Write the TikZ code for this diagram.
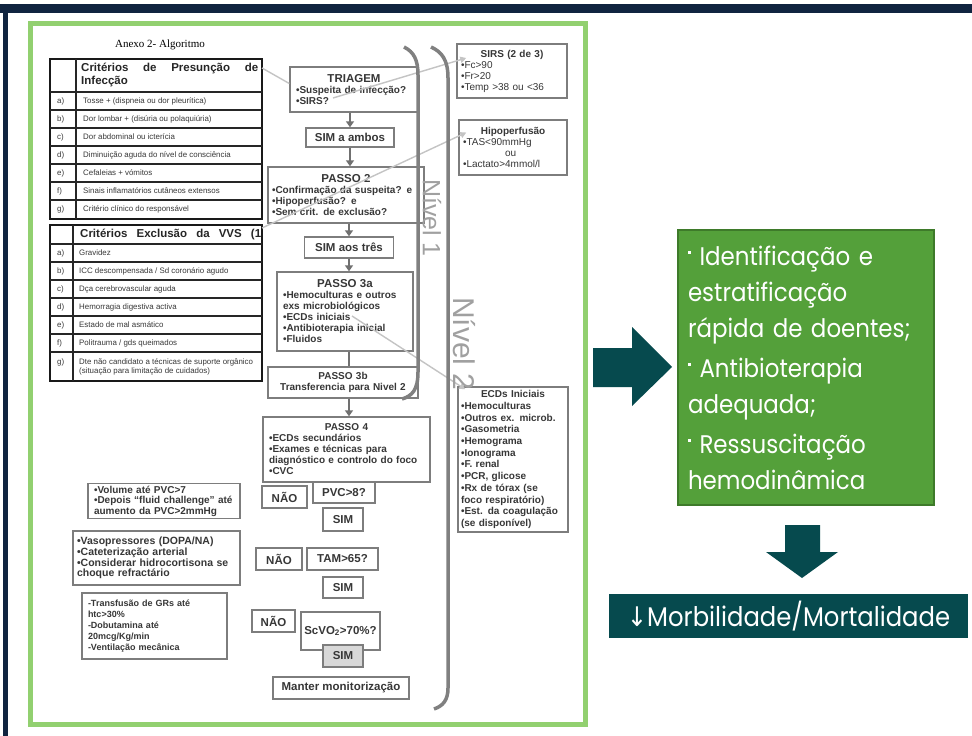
\documentclass[tikz,border=0pt]{standalone}
\usepackage{fontspec}
\usepackage{tikz}
\setmainfont{Liberation Sans}
\newfontfamily\annexfont{Liberation Serif}
\newfontfamily\slidefont[FakeStretch=0.9]{Poppins}
\newfontfamily\symfont[FakeStretch=0.9]{DejaVu Sans}
\usetikzlibrary{arrows.meta,backgrounds}
\definecolor{navyframe}{RGB}{16,36,64}
\definecolor{framegreen}{RGB}{146,208,112}
\definecolor{zonegray}{RGB}{216,216,216}
\definecolor{boxgray}{RGB}{125,125,125}
\definecolor{txtgray}{RGB}{55,55,55}
\definecolor{hintgray}{RGB}{196,196,196}
\definecolor{softgray}{RGB}{184,184,184}
\definecolor{flowgray}{RGB}{112,112,112}
\definecolor{bracketgray}{RGB}{128,128,128}
\definecolor{nivelgray}{RGB}{160,160,160}
\definecolor{darkteal}{RGB}{6,74,78}
\definecolor{slidegreen}{RGB}{84,160,58}
\definecolor{slidegreenedge}{RGB}{62,122,42}
\newcommand\boxhead[1]{\makebox[\hsize]{#1}\\}
\newcommand\sqb{\rule[0.45em]{3pt}{3pt}}

\begin{document}
\begin{tikzpicture}[x=1pt,y=-1pt,
            flowbox/.style={draw=boxgray,line width=1.4pt,text=txtgray,font=\bfseries\fontsize{10}{11}\selectfont,inner xsep=4pt,inner ysep=2pt,align=left},
            labelbox/.style={draw=boxgray,line width=1.4pt,text=txtgray,font=\bfseries\fontsize{11.5}{13}\selectfont,inner sep=1pt},
            flowarrow/.style={draw=flowgray,line width=2.6pt,-{Triangle[length=6pt,width=8pt]}},
            flowline/.style={draw=flowgray,line width=2.6pt},
            hintline/.style={draw=hintgray,line width=1.4pt},
            hintarrow/.style={hintline,-{Triangle[length=6pt,width=6pt]}},
            softline/.style={draw=softgray,line width=2.2pt},
            softarrow/.style={softline,-{Triangle[length=6pt,width=7pt]}},
            levelbracket/.style={draw=bracketgray,line width=3.5pt},
            leveltext/.style={text=nivelgray,rotate=-90,inner sep=0pt},
            rowlab/.style={anchor=west,inner sep=0pt,text=black!78,font=\fontsize{7.9}{9}\selectfont},
            rowtxt/.style={rowlab,align=left},
            tabframe/.style={draw=black!90,line width=2.6pt},
            tabrule/.style={draw=black!85,line width=1.3pt},
            greenbox/.style={fill=slidegreen,draw=slidegreenedge,line width=1.5pt,text=white,font=\slidefont\fontsize{25.5}{36}\selectfont,align=left,inner xsep=10pt},
            tealbox/.style={fill=darkteal,text=white,font=\slidefont\fontsize{27}{30}\selectfont}]
            \useasboundingbox (0,0) rectangle (972,736);
            \fill[white] (0,0) rectangle (972,736);
            \fill[navyframe] (0,4) rectangle (972,13);
            \fill[navyframe] (3,4) rectangle (8,736);
            \draw[framegreen,line width=5pt] (30,23) rectangle (585,724);

            \begin{pgfonlayer}{background}
                \fill[zonegray] (68,393) rectangle (436,705);
            \end{pgfonlayer}

            \node[font=\annexfont\fontsize{11}{13}\selectfont] (annex) at (160,45) {Anexo 2- Algoritmo};

            \draw[tabframe] (50,59) rectangle (262,219);
            \draw[tabrule] (76,59) -- (76,219);
            \foreach \yy in {92,110,128,146,164,182,200}
                \draw[tabrule] (50,\yy) -- (262,\yy);
            \node[anchor=north west,inner sep=0pt,text width=177pt,text=black!85,font=\bfseries\fontsize{11.5}{13}\selectfont] (crithead) at (81,63) {Critérios\hfill de\hfill Presunção\hfill de\\Infecção};
            \foreach \lab/\txt [count=\i] in {a)/{Tosse + (dispneia ou dor pleurítica)},b)/{Dor lombar + (disúria ou polaquiúria)},c)/{Dor abdominal ou icterícia},d)/{Diminuição aguda do nível de consciência},e)/{Cefaleias + vómitos},f)/{Sinais inflamatórios cutâneos extensos},g)/{Critério clínico do responsável}}{
                \node[rowlab] (pl\i) at (57,{83+18*\i}) {\lab};
                \node[rowtxt] (pt\i) at (83,{83+18*\i}) {\txt};
            }

            \draw[tabframe] (50,225) rectangle (262,381);
            \draw[tabrule] (73,225) -- (73,381);
            \foreach \yy in {244,262,280,298,316,334,352}
                \draw[tabrule] (50,\yy) -- (262,\yy);
            \node[anchor=west,inner sep=0pt,text=black!85,font=\bfseries\fontsize{11.5}{13}\selectfont] (exclhead) at (80,234.5) {\makebox[181pt][s]{Critérios Exclusão da VVS (1}};
            \foreach \lab/\txt [count=\i] in {a)/{Gravidez},b)/{ICC descompensada / Sd coronário agudo},c)/{Dça cerebrovascular aguda},d)/{Hemorragia digestiva activa},e)/{Estado de mal asmático},f)/{Politrauma / gds queimados}}{
                \node[rowlab] (el\i) at (57,{235+18*\i}) {\lab};
                \node[rowtxt] (et\i) at (79,{235+18*\i}) {\txt};
            }
            \node[rowlab] (el7) at (57,362) {g)};
            \node[rowtxt] (et7) at (79,366.5) {Dte não candidato a técnicas de suporte orgânico\\(situação para limitação de cuidados)};

            \node[flowbox,inner xsep=6pt,text width=116pt,minimum height=45pt] (triagem) at (354,89.5) {\boxhead{\fontsize{11.5}{13}\selectfont TRIAGEM}•Suspeita de infecção?\\•SIRS?};
            \node[labelbox,minimum width=88pt,minimum height=19pt] (simamb) at (350,137.5) {SIM a ambos};
            \node[flowbox,text width=148pt,minimum height=56pt] (passo2) at (346,195) {\boxhead{\fontsize{11.5}{13}\selectfont PASSO 2}•Confirmação da suspeita? e\\•Hipoperfusão? e\\•Sem crit. de exclusão?};
            \node[labelbox,minimum width=89pt,minimum height=21pt] (simtres) at (349,247.5) {SIM aos três};
            \node[flowbox,inner xsep=6pt,text width=124pt,minimum height=79pt] (passo3a) at (345,311.5) {\boxhead{\fontsize{11.5}{13}\selectfont PASSO 3a}•Hemoculturas e outros\\exs microbiológicos\\•ECDs iniciais\\•Antibioterapia inicial\\•Fluidos};
            \node[flowbox,fill=white,align=center,text width=142pt,minimum height=31pt] (passo3b) at (343,382.5) {PASSO 3b\\Transferencia para Nivel 2};

            \node[flowbox,inner xsep=6pt,text width=155pt,minimum height=65pt] (passo4) at (346.5,449.5) {\boxhead{PASSO 4}•ECDs secundários\\•Exames e técnicas para\\diagnóstico e controlo do foco\\•CVC};
            \node[labelbox,minimum width=62pt,minimum height=21pt] (pvc) at (344,492.5) {PVC>8?};
            \node[labelbox,minimum width=45pt,minimum height=22pt] (nao1) at (284.5,497) {NÃO};
            \node[labelbox,minimum width=40pt,minimum height=23pt] (sim1) at (343,519.5) {SIM};
            \node[labelbox,minimum width=71pt,minimum height=22pt] (tam) at (342.5,559) {TAM>65?};
            \node[labelbox,minimum width=46pt,minimum height=22pt] (nao2) at (279,559) {NÃO};
            \node[labelbox,minimum width=40pt,minimum height=21pt] (sim2) at (343,587.5) {SIM};
            \node[labelbox,minimum width=79pt,minimum height=38pt] (scvo) at (340.5,631) {ScVO\textsubscript{2}>70\%?};
            \node[labelbox,minimum width=43pt,minimum height=22pt] (nao3) at (273.5,621) {NÃO};
            \node[labelbox,fill=zonegray,minimum width=40pt,minimum height=22pt] (sim3) at (343,656) {SIM};
            \node[labelbox,minimum width=136pt,minimum height=22pt] (manter) at (341,688) {Manter monitorização};

            \node[flowbox,font=\bfseries\fontsize{10}{10.5}\selectfont,inner xsep=6pt,text width=140pt,minimum height=32pt] (volume) at (164,501) {•Volume até PVC>7\\•Depois “fluid challenge” até\\aumento da PVC>2mmHg};
            \node[flowbox,font=\bfseries\fontsize{10.5}{10.7}\selectfont,text width=159pt,minimum height=54pt] (vaso) at (156.5,558) {•Vasopressores (DOPA/NA)\\•Cateterização arterial\\•Considerar hidrocortisona se\\choque refractário};
            \node[flowbox,font=\bfseries\fontsize{9}{11}\selectfont,inner xsep=6pt,text width=133pt,minimum height=66pt] (transf) at (154.5,626) {-Transfusão de GRs até\\htc>30\%\\-Dobutamina até\\20mcg/Kg/min\\-Ventilação mecânica};

            \node[flowbox,font=\fontsize{10}{11}\selectfont,text width=102pt,minimum height=54pt] (sirs) at (512,71) {\boxhead{\bfseries SIRS (2 de 3)}•Fc>90\\•Fr>20\\•Temp >38 ou <36};
            \node[flowbox,font=\fontsize{10}{11}\selectfont,text width=100pt,minimum height=55pt] (hipo) at (513,147.5) {\boxhead{\bfseries Hipoperfusão}•TAS<90mmHg\\\hspace*{42pt}ou\\•Lactato>4mmol/l};
            \node[flowbox,font=\bfseries\fontsize{10}{11.7}\selectfont,inner xsep=3pt,text width=104pt,minimum height=145pt] (ecds) at (513,459.5) {\boxhead{ECDs Iniciais}•Hemoculturas\\•Outros ex. microb.\\•Gasometria\\•Hemograma\\•Ionograma\\•F. renal\\•PCR, glicose\\•Rx de tórax (se\\foco respiratório)\\•Est. da coagulação\\(se disponível)};

            \draw[flowarrow] (triagem.south -| simamb) -- (simamb);
            \draw[flowarrow] (simamb) -- (passo2.north -| simamb);
            \draw[flowarrow] (passo2.south -| simtres) -- (simtres);
            \draw[flowarrow] (simtres) -- (passo3a.north -| simtres);
            \draw[flowline] (passo3a.south -| simtres) -- (passo3b.north -| simtres);
            \draw[flowarrow] (passo3b.south -| simtres) -- (passo4.north -| simtres);

            \coordinate (p4in) at (343,462);
            \begin{pgfonlayer}{background}
                \draw[softarrow] (p4in) -- (manter);
                \draw[softarrow] (sim2) -- (scvo);
                \draw[softline] (pvc.west |- nao1) -- (nao1);
                \draw[softarrow,shorten >=8pt] (nao1) -- (nao1 -| volume.east);
                \draw[softline] (tam) -- (nao2);
                \draw[softarrow,shorten >=8pt] (nao2) -- (nao2 -| vaso.east);
                \draw[softline] (scvo.west |- nao3) -- (nao3);
                \draw[softarrow,shorten >=8pt] (nao3) -- (nao3 -| transf.east);
            \end{pgfonlayer}

            \coordinate (crit1) at (262,68);
            \coordinate (crit2) at (262,228);
            \coordinate (sirsq) at (333,98);
            \coordinate (ecdq) at (352,316);
            \draw[hintline] (crit1) -- ([yshift=6pt]triagem.west);
            \draw[hintarrow] (sirsq) -- ([xshift=10pt,yshift=13pt]sirs.west);
            \draw[hintarrow] (crit2) -- ([xshift=8pt,yshift=15pt]hipo.west);
            \draw[hintarrow] (ecdq) -- ([xshift=8pt,yshift=-3pt]ecds.north west);

            \draw[levelbracket] (404,47) .. controls (414,52) and (418,60) .. (418,75) -- (418,372) .. controls (418,390) and (412,396) .. (402,399);
            \draw[levelbracket] (431,47) .. controls (442,52) and (448,60) .. (448,78) -- (448,688) .. controls (448,700) and (443,706) .. (434,709);
            \node[leveltext,font=\fontsize{25}{25}\selectfont] (nivel1) at (432,218) {Nível 1};
            \node[leveltext,font=\fontsize{30}{30}\selectfont] (nivel2) at (464,344) {Nível 2};

            \fill[darkteal] (593,348) -- (632,348) -- (632,327) -- (672,367) -- (632,406) -- (632,387) -- (593,387) -- cycle;
            \node[greenbox,text width=236pt,minimum height=275pt] (gbox) at (806,367.5) {\sqb\ Identificação e\\estratificação\\rápida de doentes;\\[4pt]\sqb\ Antibioterapia\\adequada;\\[4pt]\sqb\ Ressuscitação\\hemodinâmica};
            \fill[darkteal] (785,525) -- (820,525) -- (820,552) -- (838,552) -- (802,578) -- (766,552) -- (785,552) -- cycle;
            \node[tealbox,minimum width=359pt,minimum height=44pt] (morb) at (788.5,616) {{\symfont ↓}Morbilidade/Mortalidade};
        \end{tikzpicture}
\end{document}
